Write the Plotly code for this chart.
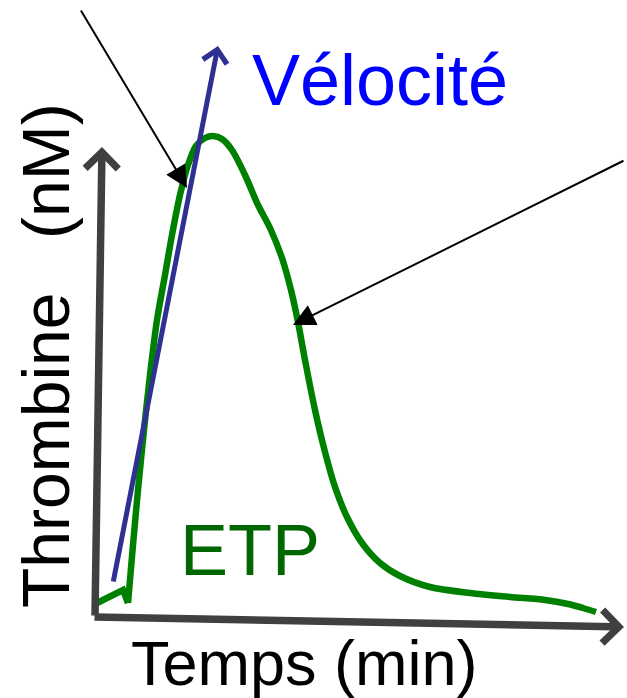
import plotly.graph_objects as go

# Schematic thrombin generation curve (arbitrary units; y grows upward)
time = [95, 123, 128, 133, 138, 144, 150, 157, 165, 172, 180, 188, 196, 205, 213, 222, 232, 245,
        258, 270, 282, 291, 298, 305, 315, 325, 335, 347, 362, 380, 400, 430, 470, 510, 545, 568, 583, 596]
thrombin = [94, 108, 95, 153, 208, 268, 323, 378, 423, 463, 503, 533, 552, 560, 562, 559, 548, 523,
            493, 470, 440, 408, 376, 338, 288, 246, 211, 181, 155, 135, 122, 111, 105, 101, 98, 94, 90, 86]

# Velocity tangent (start, end)
velocity_t = [113, 218]
velocity_v = [115, 652]

# Axes arrows (start, end)
yaxis_t = [95, 102]
yaxis_v = [81, 551]
xaxis_t = [93, 624]
xaxis_v = [81, 71]

# Pointer arrows (tail, tip)
ptr1_t = [80, 187]
ptr1_v = [689, 510]
ptr2_t = [625, 293]
ptr2_v = [538, 373]

FONT = "Liberation Sans, Arial, sans-serif"

fig = go.Figure()
# lag-phase kink (straight), then smooth burst curve
fig.add_trace(go.Scatter(x=time[:3], y=thrombin[:3], mode="lines",
                         line=dict(color="#008000", width=6.5), hoverinfo="skip"))
fig.add_trace(go.Scatter(x=time[2:], y=thrombin[2:], mode="lines",
                         line=dict(color="#008000", width=6.5, shape="spline", smoothing=0.8),
                         hoverinfo="skip"))

annotations = []

def arrow(tx, ty, color, width, head, size):
    annotations.append(dict(x=tx[1], y=ty[1], ax=tx[0], ay=ty[0], xref="x", yref="y",
                            axref="x", ayref="y", text="", showarrow=True,
                            arrowhead=head, arrowsize=size, arrowwidth=width,
                            arrowcolor=color, standoff=0))

arrow(yaxis_t, yaxis_v, "#404040", 7.5, 4, 0.85)
arrow(xaxis_t, xaxis_v, "#404040", 7.5, 4, 0.85)
arrow(velocity_t, velocity_v, "#2E3192", 5, 4, 0.95)
arrow(ptr1_t, ptr1_v, "#000000", 2, 2, 2.2)
arrow(ptr2_t, ptr2_v, "#000000", 2, 2, 2.2)

def label(x, y, text, size, color, angle=0):
    annotations.append(dict(x=x, y=y, xref="x", yref="y", text=text, showarrow=False,
                            font=dict(family=FONT, size=size, color=color),
                            xanchor="center", yanchor="middle", textangle=angle))

label(380, 618, "Vélocité", 72, "#0000FF")
label(250, 148, "ETP", 72, "#006600")
label(304, 35, "Temps (min)", 63, "#000000")
label(46, 247, "Thrombine", 66, "#000000", -90)
label(46, 527, "(nM)", 66, "#000000", -90)

fig.update_layout(
    width=627, height=698,
    margin=dict(l=0, r=0, t=0, b=0),
    paper_bgcolor="white", plot_bgcolor="white",
    showlegend=False,
    xaxis=dict(range=[0, 627], visible=False, fixedrange=True),
    yaxis=dict(range=[0, 698], visible=False, fixedrange=True),
    annotations=annotations,
)

fig.write_html("out.html", config={"displayModeBar": False},
               post_script="document.body.style.margin='0px';document.body.style.overflow='hidden';")
